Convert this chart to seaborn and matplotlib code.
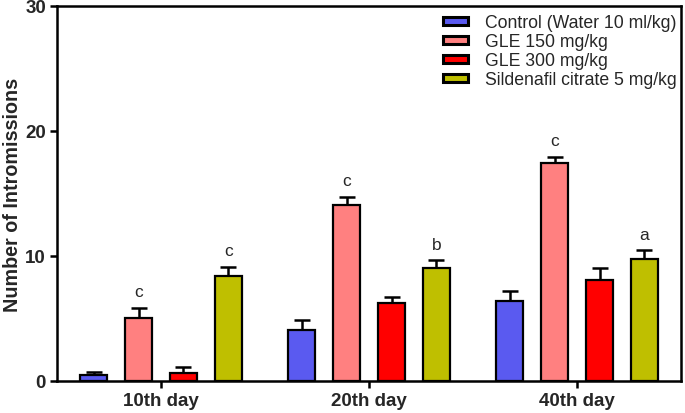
import matplotlib
matplotlib.use("Agg")
import matplotlib.pyplot as plt
import seaborn as sns
import pandas as pd
import numpy as np

days = ["10th day", "20th day", "40th day"]
groups = ["Control (Water 10 ml/kg)", "GLE 150 mg/kg", "GLE 300 mg/kg", "Sildenafil citrate 5 mg/kg"]
means = {
    "Control (Water 10 ml/kg)": [0.5, 4.1, 6.4],
    "GLE 150 mg/kg": [5.0, 14.1, 17.4],
    "GLE 300 mg/kg": [0.6, 6.25, 8.05],
    "Sildenafil citrate 5 mg/kg": [8.4, 9.05, 9.75],
}
sems = {
    "Control (Water 10 ml/kg)": [0.25, 0.8, 0.8],
    "GLE 150 mg/kg": [0.85, 0.6, 0.5],
    "GLE 300 mg/kg": [0.55, 0.45, 0.95],
    "Sildenafil citrate 5 mg/kg": [0.7, 0.6, 0.7],
}
letters = {
    "GLE 150 mg/kg": ["c", "c", "c"],
    "Sildenafil citrate 5 mg/kg": ["c", "b", "a"],
}
colors = ["#5A5AF0", "#FF8080", "#FF0000", "#BFBF00"]

rows = []
for g in groups:
    for d, m in zip(days, means[g]):
        rows.append({"day": d, "group": g, "value": m})
df = pd.DataFrame(rows)

sns.set_style("ticks")
plt.rcParams["font.family"] = ["Liberation Sans", "DejaVu Sans"]

fig = plt.figure(figsize=(6.85, 4.14), dpi=100)
ax = fig.add_axes([0.0832, 0.0773, 0.911, 0.906])

sns.barplot(data=df, x="day", y="value", hue="group", hue_order=groups, order=days,
            palette=colors, saturation=1, errorbar=None, width=0.865, gap=0.38,
            edgecolor="black", linewidth=1.6, ax=ax, legend=True, zorder=3)

for cont, g in zip(ax.containers, groups):
    xs = [p.get_x() + p.get_width() / 2 for p in cont.patches]
    ys = means[g]
    ax.errorbar(xs, ys, yerr=[np.zeros(len(ys)), sems[g]], fmt="none",
                ecolor="black", elinewidth=1.8, capsize=6, capthick=1.8, zorder=2)
    if g in letters:
        for x, y, e, t in zip(xs, ys, sems[g], letters[g]):
            ax.text(x, y + e + 0.7, t, ha="center", va="bottom", fontsize=12.5)

ax.set_xlim(-0.5, 2.5)
ax.set_ylim(0, 30)
ax.set_yticks([0, 10, 20, 30])
ax.set_xlabel("")
ax.set_ylabel("Number of Intromissions", fontsize=14.2, fontweight="bold", labelpad=2)
for lab in ax.get_xticklabels() + ax.get_yticklabels():
    lab.set_fontweight("bold")
ax.tick_params(axis="both", labelsize=13.5, width=1.8, length=5, color="black", pad=3)
for s in ax.spines.values():
    s.set_visible(True)
    s.set_linewidth(1.8)
    s.set_color("black")

leg = ax.legend(loc="upper right", bbox_to_anchor=(1.0, 0.99), frameon=False,
                fontsize=12.7, handlelength=1.4, handleheight=0.35, labelspacing=0.12,
                borderaxespad=0.05, borderpad=0.2, handletextpad=0.95)
for h in leg.legend_handles:
    h.set_linewidth(2.2)

fig.savefig("out.png", dpi=100)
